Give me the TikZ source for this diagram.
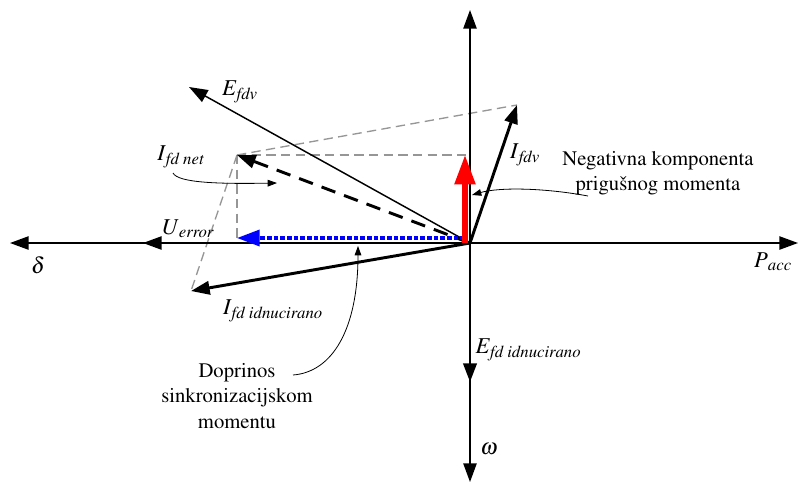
\documentclass[tikz,border=0pt]{standalone}
\usepackage[T1]{fontenc}
\usepackage{mathptmx}
\usepackage{xcolor}
\usepackage{tikz}
\usetikzlibrary{arrows.meta, positioning, calc}

\definecolor{dashgray}{RGB}{150,150,150}
\newcommand{\vlbl}[2]{\textit{#1}\textsubscript{\textit{#2}}}

\begin{document}
\begin{tikzpicture}[x=0.75pt, y=-0.75pt, font=\fontsize{15.5}{19}\selectfont,
	axis/.style={line width=1.1pt, -{Triangle[length=14pt,width=10pt]}},
	vec/.style={line width=2.2pt, -{Triangle[length=14pt,width=10pt]}},
	helper/.style={dashgray, line width=1pt, dash pattern=on 7pt off 4pt},
	note/.style={line width=0.6pt, -{Triangle[length=7pt,width=5pt]}},
	sym/.style={font=\fontsize{17}{20}\selectfont}]
			\useasboundingbox (0,0) rectangle (799,483);
			
			\coordinate (O) at (470,243);
			\coordinate (dtip) at (10,243);
			\coordinate (dmid) at (143,243);
			\coordinate (ptip) at (798,243);
			\coordinate (utip) at (470,10);
			\coordinate (wtip) at (470,482);
			\coordinate (Eind) at (470,382);
			\coordinate (Efdv) at (189,87);
			\coordinate (Ifdv) at (517,105);
			\coordinate (Iind) at (191,291);
			\coordinate (Inet) at (237,155);
			\coordinate (R0) at (465,243);
			\coordinate (Rtip) at (465,155);
			\coordinate (Rtop) at (470,155);
			\coordinate (B0) at (465,238);
			\coordinate (Btip) at (237,238);
			
			% pomocne linije
			\draw[helper] (Inet) -- (Rtop);
			\draw[helper] (Inet) -- (Btip);
			\draw[helper] (Inet) -- (Ifdv);
			\draw[helper] (Inet) -- (Iind);
			
			% osi
			\draw[axis] (O) -- (dtip);
			\draw[axis] (O) -- (dmid);
			\draw[axis] (O) -- (ptip);
			\draw[axis] (O) -- (utip);
			\draw[axis] (O) -- (wtip);
			
			% vektori
			\draw[line width=1.1pt, -{Triangle[length=14pt,width=10pt]}] (O) -- (Efdv);
			\draw[vec] (O) -- (Ifdv);
			\draw[vec] (O) -- (Iind);
			\draw[vec] (O) -- (Eind);
			\draw[line width=2.2pt, dash pattern=on 11pt off 7pt, -{Triangle[length=14pt,width=10pt]}] (O) -- (Inet);
			\draw[blue, line width=2.6pt, dash pattern=on 3.5pt off 1.5pt, -{Triangle[length=17pt,width=12pt]}] (B0) -- (Btip);
			\draw[red, line width=4pt, -{Triangle[length=22pt,width=15pt]}] (R0) -- (Rtip);
			
			% oznake
			\node[sym] (lEfdv) at (240,92) {\vlbl{E}{fdv}};
			\node[sym] (lInet) at (181,157) {\vlbl{I}{fd net}};
			\node[sym] (lUerr) at (188,229) {\vlbl{U}{error}};
			\node[sym] (ldelta) at (38,265) {$\delta$};
			\node[sym] (lPacc) at (773,262) {\vlbl{P}{acc}};
			\node[sym] (lIfdv) at (525,155) {\vlbl{I}{fdv}};
			\node[sym] (lIind) at (273,311) {\vlbl{I}{fd idnucirano}};
			\node[sym, anchor=west] (lEind) at (471,350) {\vlbl{E}{fd idnucirano}};
			\node[sym] (lomega) at (489,449) {$\omega$};
			\node[align=center] (neg) at (658,173) {Negativna komponenta\\prigu\v{s}nog momenta};
			\node[align=center] (dop) at (237,396) {Doprinos\\sinkronizacijskom\\momentu};
			
			% strelice napomena
			\coordinate (netA) at (173,173);
			\coordinate (netB) at (277,183);
			\coordinate (negA) at (588,196);
			\coordinate (negB) at (472,195);
			\coordinate (dopA) at (293,375);
			\coordinate (dopB) at (358,246);
			\draw[note] (netA) .. controls (178,183) and (220,184) .. (netB);
			\draw[note] (negA) .. controls (545,188) and (500,187) .. (negB);
			\draw[note] (dopA) .. controls (332,372) and (358,330) .. (dopB);
		\end{tikzpicture}
\end{document}
